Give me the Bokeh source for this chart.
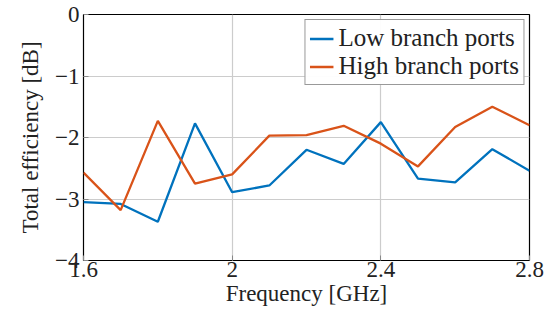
from bokeh.plotting import figure
from bokeh.models import FixedTicker, Legend, LegendItem
from bokeh.embed import file_html
from bokeh.resources import INLINE

freq = [1.6, 1.7, 1.8, 1.9, 2.0, 2.1, 2.2, 2.3, 2.4, 2.5, 2.6, 2.7, 2.8]
low_branch = [-3.05, -3.08, -3.37, -1.77, -2.89, -2.78, -2.20, -2.43, -1.75, -2.67, -2.73, -2.19, -2.54]
high_branch = [-2.57, -3.18, -1.73, -2.75, -2.60, -1.97, -1.96, -1.81, -2.10, -2.47, -1.83, -1.50, -1.80]
x_ticks = [1.6, 2.0, 2.4, 2.8]
x_labels = ["1.6", "2", "2.4", "2.8"]
y_ticks = [-4, -3, -2, -1, 0]
y_labels = ["\u22124", "\u22123", "\u22122", "\u22121", "0"]

FONT = "Liberation Serif"
TXT = "#222222"

p = figure(width=559, height=316, x_range=(1.6, 2.8), y_range=(-4, 0),
           output_backend="svg", toolbar_location=None,
           min_border_left=83, min_border_right=30, min_border_top=14, min_border_bottom=56)

p.outline_line_color = "black"
p.outline_line_width = 1.2
p.background_fill_color = "white"
p.border_fill_color = "white"

p.xaxis.ticker = FixedTicker(ticks=x_ticks)
p.yaxis.ticker = FixedTicker(ticks=y_ticks)
p.xaxis.major_label_overrides = {t: l for t, l in zip(x_ticks, x_labels)}
p.yaxis.major_label_overrides = {t: l for t, l in zip(y_ticks, y_labels)}

for ax in (p.xaxis, p.yaxis):
    ax.axis_line_color = None
    ax.major_tick_in = 5
    ax.major_tick_out = 0
    ax.minor_tick_line_color = None
    ax.major_tick_line_color = "#888888"
    ax.major_label_text_font = FONT
    ax.major_label_text_font_size = "23px"
    ax.major_label_text_color = TXT
    ax.axis_label_text_font = FONT
    ax.axis_label_text_font_size = "23px"
    ax.axis_label_text_font_style = "normal"
    ax.axis_label_text_color = TXT

p.xaxis.axis_label = "Frequency [GHz]"
p.yaxis.axis_label = "Total efficiency [dB]"
p.xaxis.major_label_standoff = 1
p.yaxis.major_label_standoff = 4
p.xaxis.axis_label_standoff = 1
p.yaxis.axis_label_standoff = 9

p.grid.grid_line_color = "#cccccc"
p.grid.grid_line_width = 1.2

r1 = p.line(freq, low_branch, line_color="#0072BD", line_width=2.3)
r2 = p.line(freq, high_branch, line_color="#D95319", line_width=2.3)

legend = Legend(items=[LegendItem(label="Low branch ports", renderers=[r1]),
                       LegendItem(label="High branch ports", renderers=[r2])],
                location="top_right")
legend.label_text_font = FONT
legend.label_text_font_size = "25px"
legend.label_text_color = TXT
legend.border_line_color = "#333333"
legend.border_line_width = 1
legend.glyph_width = 24
legend.glyph_height = 23
legend.label_height = 23
legend.spacing = 0
legend.padding = 4
legend.margin = 5
legend.label_standoff = 5
p.add_layout(legend)

open("out.html", "w").write(file_html(p, INLINE))
